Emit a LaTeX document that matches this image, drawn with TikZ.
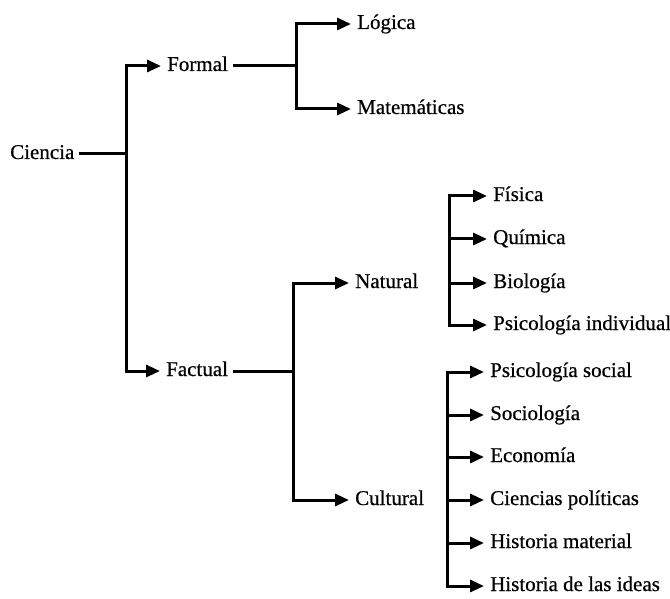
\documentclass[tikz,border=0pt]{standalone}
\usepackage{fontspec}
\setmainfont{Liberation Serif}[UprightFeatures={FakeBold=0.6}]
\usetikzlibrary{arrows.meta}
\tikzset{
  lbl/.style={anchor=west,inner xsep=6pt,inner ysep=0pt,text height=14pt,text depth=4pt,font=\fontsize{21}{24}\selectfont},
  ln/.style={line width=3pt,line cap=rect},
  arr/.style={line width=3pt,-{Triangle[length=14pt,width=12pt]}},
}
\begin{document}
\begin{tikzpicture}[x=1pt,y=-1pt]
\useasboundingbox (0,0) rectangle (670,599);
% nodes
\node[lbl] (ciencia) at (4,154) {Ciencia};
\node[lbl] (formal) at (161,66) {Formal};
\node[lbl] (factual) at (160,371) {Factual};
\node[lbl] (logica) at (351,24) {Lógica};
\node[lbl] (matem) at (351,109) {Matemáticas};
\node[lbl] (natural) at (349,283) {Natural};
\node[lbl] (cultural) at (349,500) {Cultural};
\node[lbl] (fisica) at (487,196) {Física};
\node[lbl] (quimica) at (487,239) {Química};
\node[lbl] (biologia) at (487,283) {Biología};
\node[lbl] (psicind) at (487,325) {Psicología individual};
\node[lbl] (psicsoc) at (484,372) {Psicología social};
\node[lbl] (sociol) at (484,415) {Sociología};
\node[lbl] (econ) at (484,457) {Economía};
\node[lbl] (cpol) at (484,500) {Ciencias políticas};
\node[lbl] (hmat) at (484,543) {Historia material};
\node[lbl] (hideas) at (484,586) {Historia de las ideas};
% junctions
\coordinate (j0) at (126,154);
\coordinate (j1) at (296,66);
\coordinate (j2) at (293,371);
\coordinate (j3) at (449,262);
\coordinate (j4) at (447,480);
% Ciencia
\draw[ln] (ciencia.east) -- (j0);
\draw[arr] (j0) |- (formal.west);
\draw[arr] (j0) |- (factual.west);
% Formal
\draw[ln] (formal.east) -- (j1);
\draw[arr] (j1) |- (logica.west);
\draw[arr] (j1) |- (matem.west);
% Factual
\draw[ln] (factual.east) -- (j2);
\draw[arr] (j2) |- (natural.west);
\draw[arr] (j2) |- (cultural.west);
% Natural
\draw[arr] (j3) |- (fisica.west);
\draw[arr] (j3 |- quimica.west) -- (quimica.west);
\draw[arr] (j3 |- biologia.west) -- (biologia.west);
\draw[arr] (j3) |- (psicind.west);
% Cultural
\draw[arr] (j4) |- (psicsoc.west);
\draw[arr] (j4 |- sociol.west) -- (sociol.west);
\draw[arr] (j4 |- econ.west) -- (econ.west);
\draw[arr] (j4 |- cpol.west) -- (cpol.west);
\draw[arr] (j4 |- hmat.west) -- (hmat.west);
\draw[arr] (j4) |- (hideas.west);
\end{tikzpicture}
\end{document}
